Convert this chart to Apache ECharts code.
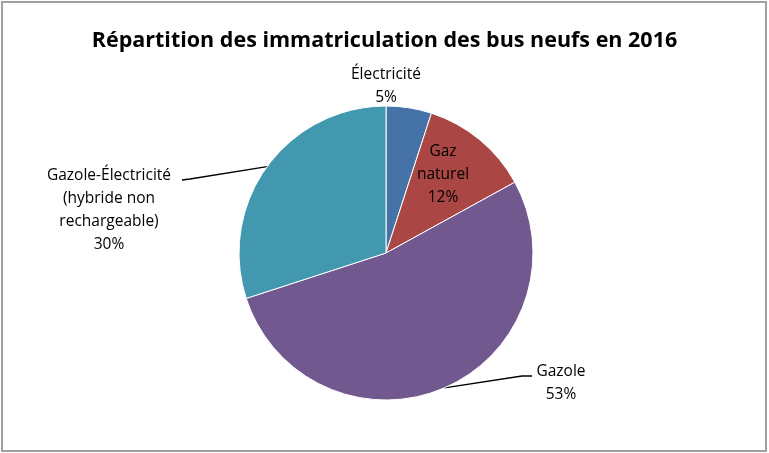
<!DOCTYPE html>
<html lang="fr">
<head>
    <meta charset="UTF-8">
    <script src="https://cdn.jsdelivr.net/npm/echarts@6/dist/echarts.min.js"></script>
    <title>Bus neufs 2016</title>
    <style>
        html, body { margin: 0; padding: 0; background: #fff; }
        #main { width: 769px; height: 453px; }
    </style>
</head>
<body>
    <div id="main"></div>
<script>
// données (en %)
var energies = ['Électricité', 'Gaz\nnaturel', 'Gazole', 'Gazole-Électricité\n(hybride non\nrechargeable)'];
var parts = [5, 12, 53, 30];
var couleurs = ['#4572A7', '#AA4643', '#71588F', '#4198AF'];

// où Excel a posé les étiquettes : centre du texte, puis coude et bout du trait
var placeEtiquettes = [
    { x: 386, y: 86 },
    { x: 443, y: 175 },
    { x: 561, y: 383, coude: [522, 376], bout: [532, 376] },
    { x: 109, y: 210, coude: [190, 179], bout: [182, 180] }
];

var police = '"Open Sans", "Noto Sans", sans-serif';

var donnees = [];
for (var i = 0; i < energies.length; i++) {
    donnees.push({
        name: energies[i],
        value: parts[i],
        itemStyle: { color: couleurs[i] },
        labelLine: { show: !!placeEtiquettes[i].coude }
    });
}

var option = {
    backgroundColor: '#fff',
    animation: false,
    title: {
        text: 'Répartition des immatriculation des bus neufs en 2016',
        left: 'center',
        top: 25,
        textStyle: { fontFamily: police, fontSize: 21.5, fontWeight: 'bold', color: '#000' }
    },
    graphic: [{
        type: 'rect',
        shape: { x: 2, y: 2, width: 764, height: 449 },
        style: { fill: null, stroke: '#a0a0a0', lineWidth: 2 },
        silent: true
    }],
    series: [{
        type: 'pie',
        center: [386, 253],
        radius: 147,
        startAngle: 90,
        clockwise: true,
        itemStyle: { borderColor: '#fff', borderWidth: 1 },
        label: {
            show: true,
            position: 'outside',
            formatter: '{b}\n{d}%',
            fontFamily: police,
            fontSize: 15.5,
            lineHeight: 23,
            color: '#000',
            align: 'center'
        },
        labelLine: {
            show: true,
            length: 10,
            length2: 10,
            lineStyle: { color: '#000', width: 1.4 }
        },
        labelLayout: function (p) {
            var pl = placeEtiquettes[p.dataIndex];
            var res = { x: pl.x, y: pl.y, align: 'center', verticalAlign: 'middle' };
            if (pl.coude && p.labelLinePoints) {
                res.labelLinePoints = [p.labelLinePoints[0], pl.coude, pl.bout];
            }
            return res;
        },
        data: donnees
    }]
};

var myChart = echarts.init(document.getElementById('main'));
myChart.setOption(option);
</script>
</body>
</html>
